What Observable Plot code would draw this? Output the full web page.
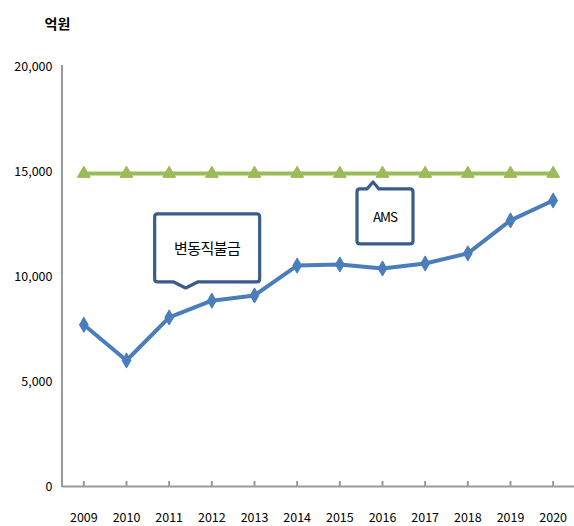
<!DOCTYPE html>
<html><head><meta charset="utf-8">
<script src="https://cdn.jsdelivr.net/npm/d3@7"></script>
<script src="https://cdn.jsdelivr.net/npm/@observablehq/plot@0.6"></script>
<style>body{margin:0;background:#fff}</style>
</head><body><div id="chart"></div>
<script>
const years = ["2009","2010","2011","2012","2013","2014","2015","2016","2017","2018","2019","2020"];
const directPayment = [7700, 6000, 8050, 8850, 9100, 10520, 10570, 10380, 10620, 11100, 12670, 13620];
const amsLimit = [14900, 14900, 14900, 14900, 14900, 14900, 14900, 14900, 14900, 14900, 14900, 14900];
const yTicks = [0, 5000, 10000, 15000, 20000];
const unitLabel = "억원";
const calloutLabels = ["변동직불금", "AMS"];
const calloutYears = ["2011", "2016"];
const calloutValues = [9430, 14480];

const blue = years.map((y, i) => ({year: y, value: directPayment[i]}));
const green = years.map((y, i) => ({year: y, value: amsLimit[i]}));
const FONT = "'Noto Sans CJK KR', 'Noto Sans', sans-serif";

function yAxisLine(index, scales, values, dims) {
  const g = d3.create("svg:g");
  g.append("line")
    .attr("x1", dims.marginLeft).attr("x2", dims.marginLeft)
    .attr("y1", scales.y(20000) - 1).attr("y2", scales.y(0) + 1)
    .attr("stroke", "#999").attr("stroke-width", 2);
  return g.node();
}

function callouts(index, scales, values, dims) {
  const specs = [
    {dx: 17, dir: "down", left: -31, w: 105, h: 68, gap: 6, base: 12, fs: 15},
    {dx: -9, dir: "up", left: -16, w: 56, h: 55, gap: 7, base: 6, fs: 13.5}
  ];
  const g = d3.create("svg:g");
  const r = 3;
  calloutLabels.forEach((label, i) => {
    const s = specs[i];
    const tx = scales.x(calloutYears[i]) + s.dx;
    const ty = scales.y(calloutValues[i]);
    const x0 = tx + s.left, x1 = x0 + s.w;
    let y0, y1, d;
    if (s.dir === "down") {
      y1 = ty - s.gap; y0 = y1 - s.h;
      d = `M${x0+r},${y0}H${x1-r}Q${x1},${y0} ${x1},${y0+r}V${y1-r}Q${x1},${y1} ${x1-r},${y1}` +
          `H${tx+s.base}L${tx},${ty}L${tx-s.base},${y1}H${x0+r}Q${x0},${y1} ${x0},${y1-r}V${y0+r}Q${x0},${y0} ${x0+r},${y0}Z`;
    } else {
      y0 = ty + s.gap; y1 = y0 + s.h;
      d = `M${x0+r},${y0}H${tx-s.base}L${tx},${ty}L${tx+s.base},${y0}H${x1-r}Q${x1},${y0} ${x1},${y0+r}V${y1-r}Q${x1},${y1} ${x1-r},${y1}` +
          `H${x0+r}Q${x0},${y1} ${x0},${y1-r}V${y0+r}Q${x0},${y0} ${x0+r},${y0}Z`;
    }
    g.append("path").attr("d", d).attr("fill", "#fff").attr("stroke", "#385D8A")
      .attr("stroke-width", 3.2).attr("stroke-linejoin", "round");
    g.append("text").attr("x", (x0 + x1) / 2).attr("y", (y0 + y1) / 2)
      .attr("text-anchor", "middle").attr("dominant-baseline", "central")
      .attr("font-family", FONT).attr("font-size", s.fs)
      .attr("letter-spacing", s.dir === "up" ? "-1px" : "-0.5px")
      .attr("fill", "#000").text(label);
  });
  return g.node();
}

const chart = Plot.plot({
  width: 574,
  height: 526,
  marginTop: 66,
  marginBottom: 40,
  marginLeft: 62,
  marginRight: 0,
  style: {fontFamily: FONT, background: "#fff"},
  x: {type: "point", domain: years, padding: 0.5, round: false},
  y: {domain: [0, 20000]},
  marks: [
    Plot.axisY({ticks: yTicks, tickSize: 0, tickPadding: 10, tickFormat: d3.format(","), fontSize: 12.5, fill: "#000", label: null, style: {letterSpacing: "-0.7px"}}),
    Plot.axisX({tickSize: 0, tickPadding: 27, fontSize: 12.5, fill: "#000", label: null, style: {letterSpacing: "-0.7px"}}),
    Plot.ruleX(years, {x: d => d, y1: 0, y2: 0, insetBottom: 5, stroke: "#999", strokeWidth: 2}),
    Plot.ruleY([0], {stroke: "#999", strokeWidth: 2}),
    yAxisLine,
    Plot.text([unitLabel], {frameAnchor: "top-left", dx: -18, dy: -47, fontSize: 14, fontWeight: "bold", fill: "#000"}),
    Plot.line(green, {x: "year", y: "value", stroke: "#9BBB59", strokeWidth: 4}),
    Plot.dot(green, {x: "year", y: "value", symbol: "triangle", r: 4.8, fill: "#9BBB59", stroke: "#9BBB59", strokeWidth: 1}),
    Plot.line(blue, {x: "year", y: "value", stroke: "#4A7EBB", strokeWidth: 4}),
    Plot.dot(blue, {x: "year", y: "value", symbol: "diamond", r: 4.6, fill: "#4A7EBB", stroke: "#4A7EBB", strokeWidth: 1}),
    callouts
  ]
});
document.getElementById("chart").append(chart);
</script>
</body></html>
